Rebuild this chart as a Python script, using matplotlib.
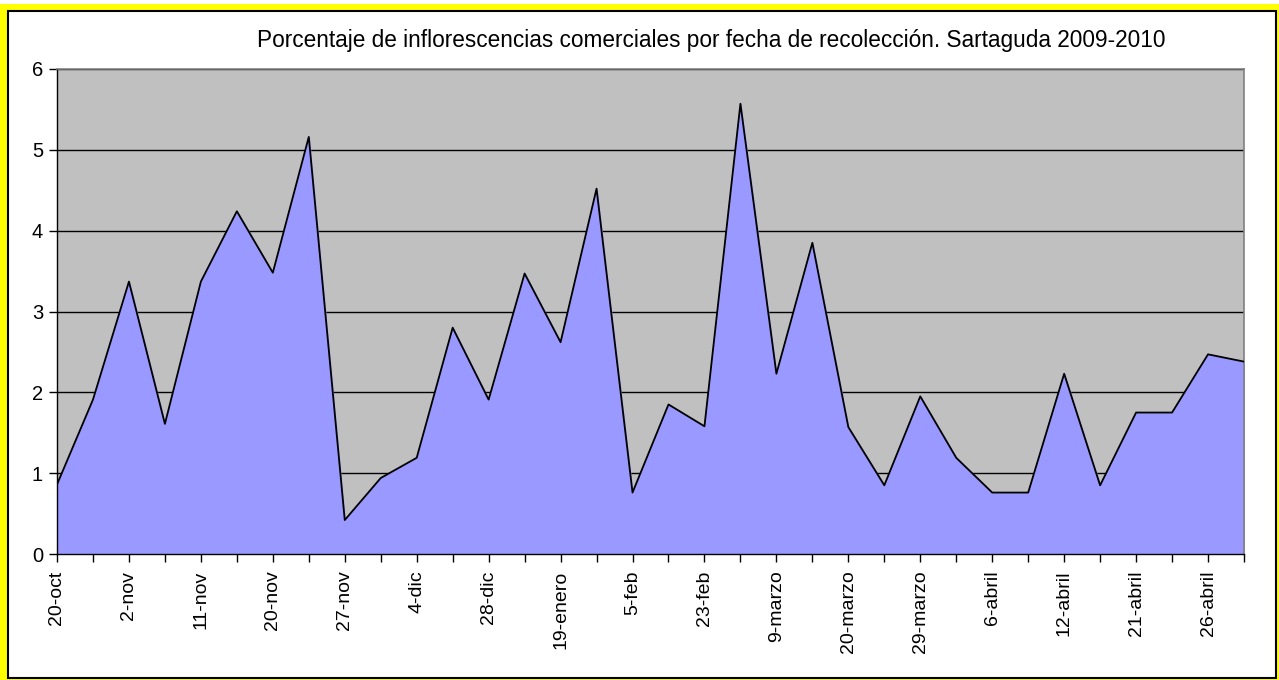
import matplotlib
matplotlib.use('Agg')
import matplotlib.pyplot as plt
from matplotlib.patches import Rectangle

plt.rcParams['font.family'] = ['Liberation Sans', 'DejaVu Sans']

# porcentaje por fecha de recolección (34 fechas, etiqueta cada dos)
porcentaje = [0.86, 1.91, 3.37, 1.61, 3.37, 4.24, 3.48, 5.16, 0.42, 0.94,
              1.19, 2.80, 1.91, 3.47, 2.62, 4.52, 0.76, 1.85, 1.58, 5.57,
              2.23, 3.85, 1.57, 0.85, 1.95, 1.19, 0.76, 0.76, 2.23, 0.85,
              1.75, 1.75, 2.47, 2.38]
etiquetas = ['20-oct', '2-nov', '11-nov', '20-nov', '27-nov', '4-dic', '28-dic',
             '19-enero', '5-feb', '23-feb', '9-marzo', '20-marzo', '29-marzo',
             '6-abril', '12-abril', '21-abril', '26-abril']

W, H = 1279, 680
fig = plt.figure(figsize=(W / 100, H / 100), dpi=100)
fig.patch.set_facecolor('white')

# marco amarillo + borde negro
fig.patches.append(Rectangle((0, 0), 1, 1 - 4 / H, transform=fig.transFigure,
                             facecolor='#FFFF00', edgecolor='none', zorder=-3))
fig.patches.append(Rectangle((8 / W, 2 / H), (1276 - 8) / W, (H - 11 - 2) / H,
                             transform=fig.transFigure, facecolor='white',
                             edgecolor='black', linewidth=1.5, zorder=-2))

ax = fig.add_axes([57 / W, (H - 554) / H, (1244 - 57) / W, (554 - 69) / H])
ax.set_facecolor('#C0C0C0')

x = list(range(len(porcentaje)))
ax.yaxis.grid(True, color='black', linewidth=1)
ax.set_axisbelow(True)
ax.fill_between(x, porcentaje, 0, color='#9999FF', zorder=2)
ax.plot(x, porcentaje, color='black', linewidth=1.3, zorder=3)

ax.set_xlim(0, len(porcentaje) - 1)
ax.set_ylim(0, 6)
ax.set_yticks(range(0, 7))
ax.set_xticks(x)
ax.set_xticklabels([etiquetas[i // 2] if i % 2 == 0 else '' for i in x],
                   rotation=90, fontsize=14)
ax.tick_params(axis='y', labelsize=14.5, length=6, width=1, color='black', pad=4)
ax.tick_params(axis='x', length=6, width=1, color='black', pad=6)

for s in ['left', 'bottom']:
    ax.spines[s].set_color('black')
    ax.spines[s].set_linewidth(1)
for s in ['top', 'right']:
    ax.spines[s].set_color('#808080')
    ax.spines[s].set_linewidth(1.2)

fig.text(711 / W, 1 - 40 / H,
         'Porcentaje de inflorescencias comerciales por fecha de recolección. Sartaguda 2009-2010',
         ha='center', va='center', fontsize=16.3)

fig.savefig('out.png', dpi=100)
